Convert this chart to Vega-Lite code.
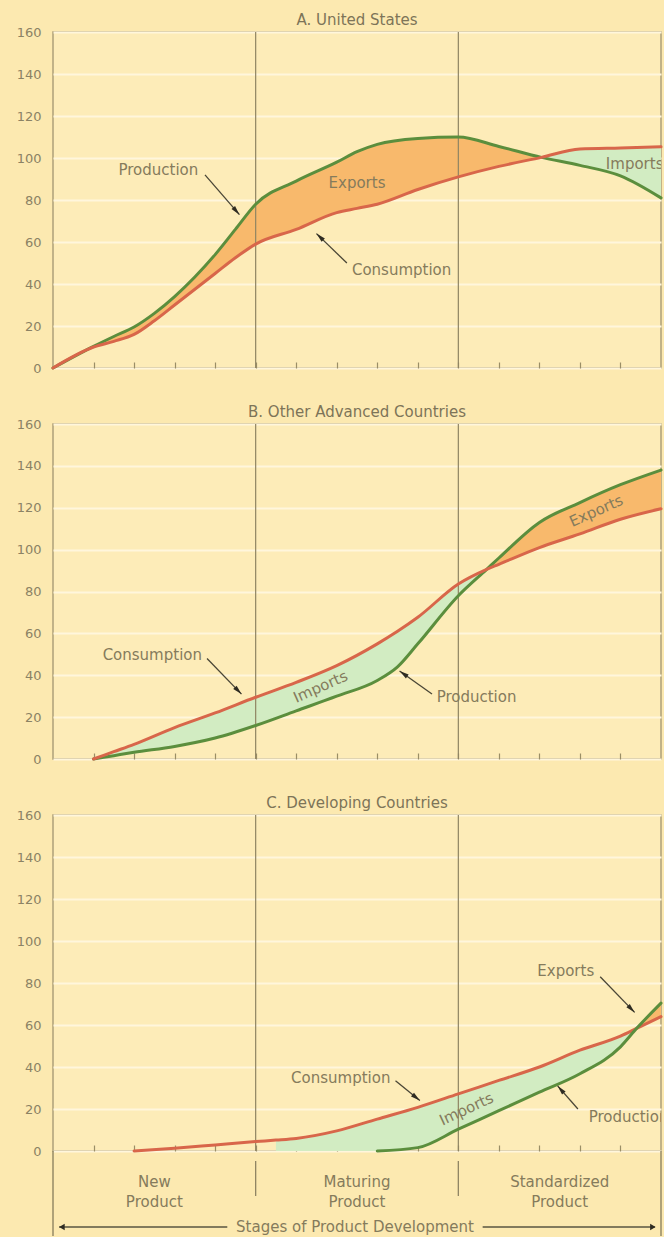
{
  "$schema": "https://vega.github.io/schema/vega-lite/v6.json",
  "padding": {"top": 12, "left": 0, "right": 0, "bottom": 0},
  "background": "#FCE9B0",
  "datasets": {
    "curves": [
      {"panel": "A", "series": "Production", "x": 0, "v": 0},
      {"panel": "A", "series": "Production", "x": 1, "v": 10.3},
      {"panel": "A", "series": "Production", "x": 1.5, "v": 15},
      {"panel": "A", "series": "Production", "x": 2, "v": 19.5},
      {"panel": "A", "series": "Production", "x": 2.5, "v": 26},
      {"panel": "A", "series": "Production", "x": 3, "v": 34},
      {"panel": "A", "series": "Production", "x": 4, "v": 54},
      {"panel": "A", "series": "Production", "x": 4.5, "v": 66},
      {"panel": "A", "series": "Production", "x": 5, "v": 78},
      {"panel": "A", "series": "Production", "x": 6, "v": 89},
      {"panel": "A", "series": "Production", "x": 7, "v": 98},
      {"panel": "A", "series": "Production", "x": 7.5, "v": 103},
      {"panel": "A", "series": "Production", "x": 8, "v": 106.5},
      {"panel": "A", "series": "Production", "x": 9, "v": 109.3},
      {"panel": "A", "series": "Production", "x": 10, "v": 110},
      {"panel": "A", "series": "Production", "x": 11, "v": 105.5},
      {"panel": "A", "series": "Production", "x": 12.05, "v": 100.3},
      {"panel": "A", "series": "Production", "x": 13, "v": 96.5},
      {"panel": "A", "series": "Production", "x": 14, "v": 91.5},
      {"panel": "A", "series": "Production", "x": 15, "v": 81},
      {"panel": "A", "series": "Consumption", "x": 0, "v": 0},
      {"panel": "A", "series": "Consumption", "x": 1, "v": 10},
      {"panel": "A", "series": "Consumption", "x": 1.5, "v": 12.7},
      {"panel": "A", "series": "Consumption", "x": 2, "v": 16},
      {"panel": "A", "series": "Consumption", "x": 2.5, "v": 22.5},
      {"panel": "A", "series": "Consumption", "x": 3, "v": 30},
      {"panel": "A", "series": "Consumption", "x": 4, "v": 45},
      {"panel": "A", "series": "Consumption", "x": 4.5, "v": 52.5},
      {"panel": "A", "series": "Consumption", "x": 5, "v": 59},
      {"panel": "A", "series": "Consumption", "x": 6, "v": 66},
      {"panel": "A", "series": "Consumption", "x": 7, "v": 74},
      {"panel": "A", "series": "Consumption", "x": 7.5, "v": 76},
      {"panel": "A", "series": "Consumption", "x": 8, "v": 78},
      {"panel": "A", "series": "Consumption", "x": 9, "v": 85},
      {"panel": "A", "series": "Consumption", "x": 10, "v": 91},
      {"panel": "A", "series": "Consumption", "x": 11, "v": 96},
      {"panel": "A", "series": "Consumption", "x": 12.05, "v": 100.3},
      {"panel": "A", "series": "Consumption", "x": 13, "v": 104.3},
      {"panel": "A", "series": "Consumption", "x": 14, "v": 104.8},
      {"panel": "A", "series": "Consumption", "x": 15, "v": 105.3},
      {"panel": "B", "series": "Production", "x": 1, "v": 0},
      {"panel": "B", "series": "Production", "x": 1.5, "v": 1.6},
      {"panel": "B", "series": "Production", "x": 2, "v": 3.2},
      {"panel": "B", "series": "Production", "x": 3, "v": 6},
      {"panel": "B", "series": "Production", "x": 4, "v": 10},
      {"panel": "B", "series": "Production", "x": 5, "v": 16},
      {"panel": "B", "series": "Production", "x": 6, "v": 23},
      {"panel": "B", "series": "Production", "x": 7, "v": 30},
      {"panel": "B", "series": "Production", "x": 8, "v": 37.5},
      {"panel": "B", "series": "Production", "x": 8.5, "v": 44},
      {"panel": "B", "series": "Production", "x": 9, "v": 55},
      {"panel": "B", "series": "Production", "x": 10, "v": 78},
      {"panel": "B", "series": "Production", "x": 10.7, "v": 90.6},
      {"panel": "B", "series": "Production", "x": 11, "v": 96},
      {"panel": "B", "series": "Production", "x": 12, "v": 113},
      {"panel": "B", "series": "Production", "x": 13, "v": 122.5},
      {"panel": "B", "series": "Production", "x": 14, "v": 131},
      {"panel": "B", "series": "Production", "x": 15, "v": 138},
      {"panel": "B", "series": "Consumption", "x": 1, "v": 0},
      {"panel": "B", "series": "Consumption", "x": 1.5, "v": 3.5},
      {"panel": "B", "series": "Consumption", "x": 2, "v": 7},
      {"panel": "B", "series": "Consumption", "x": 3, "v": 15},
      {"panel": "B", "series": "Consumption", "x": 4, "v": 22},
      {"panel": "B", "series": "Consumption", "x": 5, "v": 29.5},
      {"panel": "B", "series": "Consumption", "x": 6, "v": 36.6},
      {"panel": "B", "series": "Consumption", "x": 7, "v": 44.6},
      {"panel": "B", "series": "Consumption", "x": 8, "v": 55},
      {"panel": "B", "series": "Consumption", "x": 8.5, "v": 61},
      {"panel": "B", "series": "Consumption", "x": 9, "v": 67.7},
      {"panel": "B", "series": "Consumption", "x": 10, "v": 83.6},
      {"panel": "B", "series": "Consumption", "x": 10.7, "v": 90.6},
      {"panel": "B", "series": "Consumption", "x": 11, "v": 93},
      {"panel": "B", "series": "Consumption", "x": 12, "v": 101},
      {"panel": "B", "series": "Consumption", "x": 13, "v": 107.5},
      {"panel": "B", "series": "Consumption", "x": 14, "v": 114.5},
      {"panel": "B", "series": "Consumption", "x": 15, "v": 119.5},
      {"panel": "C", "series": "Consumption", "x": 2, "v": 0},
      {"panel": "C", "series": "Consumption", "x": 3, "v": 1.3},
      {"panel": "C", "series": "Consumption", "x": 4, "v": 2.9},
      {"panel": "C", "series": "Consumption", "x": 5, "v": 4.5},
      {"panel": "C", "series": "Consumption", "x": 5.5, "v": 5.2},
      {"panel": "C", "series": "Consumption", "x": 6, "v": 6},
      {"panel": "C", "series": "Consumption", "x": 7, "v": 9.6},
      {"panel": "C", "series": "Consumption", "x": 8, "v": 15.2},
      {"panel": "C", "series": "Consumption", "x": 9, "v": 20.8},
      {"panel": "C", "series": "Consumption", "x": 10, "v": 27.2},
      {"panel": "C", "series": "Consumption", "x": 11, "v": 33.6},
      {"panel": "C", "series": "Consumption", "x": 12, "v": 40},
      {"panel": "C", "series": "Consumption", "x": 13, "v": 48},
      {"panel": "C", "series": "Consumption", "x": 14, "v": 54.7},
      {"panel": "C", "series": "Consumption", "x": 14.4, "v": 58.4},
      {"panel": "C", "series": "Consumption", "x": 15, "v": 64},
      {"panel": "C", "series": "Production", "x": 8, "v": 0},
      {"panel": "C", "series": "Production", "x": 9, "v": 1.6},
      {"panel": "C", "series": "Production", "x": 10, "v": 10.4},
      {"panel": "C", "series": "Production", "x": 11, "v": 19.2},
      {"panel": "C", "series": "Production", "x": 12, "v": 28},
      {"panel": "C", "series": "Production", "x": 13, "v": 36.8},
      {"panel": "C", "series": "Production", "x": 14, "v": 49.6},
      {"panel": "C", "series": "Production", "x": 14.4, "v": 58.4},
      {"panel": "C", "series": "Production", "x": 15, "v": 70.4}
    ],
    "bands": [
      {"panel": "A", "flow": "Exports", "x": 0, "lo": 0, "hi": 0},
      {"panel": "A", "flow": "Exports", "x": 1, "lo": 10, "hi": 10.3},
      {"panel": "A", "flow": "Exports", "x": 1.5, "lo": 12.7, "hi": 15},
      {"panel": "A", "flow": "Exports", "x": 2, "lo": 16, "hi": 19.5},
      {"panel": "A", "flow": "Exports", "x": 2.5, "lo": 22.5, "hi": 26},
      {"panel": "A", "flow": "Exports", "x": 3, "lo": 30, "hi": 34},
      {"panel": "A", "flow": "Exports", "x": 4, "lo": 45, "hi": 54},
      {"panel": "A", "flow": "Exports", "x": 4.5, "lo": 52.5, "hi": 66},
      {"panel": "A", "flow": "Exports", "x": 5, "lo": 59, "hi": 78},
      {"panel": "A", "flow": "Exports", "x": 6, "lo": 66, "hi": 89},
      {"panel": "A", "flow": "Exports", "x": 7, "lo": 74, "hi": 98},
      {"panel": "A", "flow": "Exports", "x": 7.5, "lo": 76, "hi": 103},
      {"panel": "A", "flow": "Exports", "x": 8, "lo": 78, "hi": 106.5},
      {"panel": "A", "flow": "Exports", "x": 9, "lo": 85, "hi": 109.3},
      {"panel": "A", "flow": "Exports", "x": 10, "lo": 91, "hi": 110},
      {"panel": "A", "flow": "Exports", "x": 11, "lo": 96, "hi": 105.5},
      {"panel": "A", "flow": "Exports", "x": 12.05, "lo": 100.3, "hi": 100.3},
      {"panel": "A", "flow": "Imports", "x": 12.05, "lo": 100.3, "hi": 100.3},
      {"panel": "A", "flow": "Imports", "x": 13, "lo": 96.5, "hi": 104.3},
      {"panel": "A", "flow": "Imports", "x": 14, "lo": 91.5, "hi": 104.8},
      {"panel": "A", "flow": "Imports", "x": 15, "lo": 81, "hi": 105.3},
      {"panel": "B", "flow": "Imports", "x": 1, "lo": 0, "hi": 0},
      {"panel": "B", "flow": "Imports", "x": 1.5, "lo": 1.6, "hi": 3.5},
      {"panel": "B", "flow": "Imports", "x": 2, "lo": 3.2, "hi": 7},
      {"panel": "B", "flow": "Imports", "x": 3, "lo": 6, "hi": 15},
      {"panel": "B", "flow": "Imports", "x": 4, "lo": 10, "hi": 22},
      {"panel": "B", "flow": "Imports", "x": 5, "lo": 16, "hi": 29.5},
      {"panel": "B", "flow": "Imports", "x": 6, "lo": 23, "hi": 36.6},
      {"panel": "B", "flow": "Imports", "x": 7, "lo": 30, "hi": 44.6},
      {"panel": "B", "flow": "Imports", "x": 8, "lo": 37.5, "hi": 55},
      {"panel": "B", "flow": "Imports", "x": 8.5, "lo": 44, "hi": 61},
      {"panel": "B", "flow": "Imports", "x": 9, "lo": 55, "hi": 67.7},
      {"panel": "B", "flow": "Imports", "x": 10, "lo": 78, "hi": 83.6},
      {"panel": "B", "flow": "Imports", "x": 10.7, "lo": 90.6, "hi": 90.6},
      {"panel": "B", "flow": "Exports", "x": 10.7, "lo": 90.6, "hi": 90.6},
      {"panel": "B", "flow": "Exports", "x": 11, "lo": 93, "hi": 96},
      {"panel": "B", "flow": "Exports", "x": 12, "lo": 101, "hi": 113},
      {"panel": "B", "flow": "Exports", "x": 13, "lo": 107.5, "hi": 122.5},
      {"panel": "B", "flow": "Exports", "x": 14, "lo": 114.5, "hi": 131},
      {"panel": "B", "flow": "Exports", "x": 15, "lo": 119.5, "hi": 138},
      {"panel": "C", "flow": "Imports", "x": 5.5, "lo": 0, "hi": 5.2},
      {"panel": "C", "flow": "Imports", "x": 6, "lo": 0, "hi": 6},
      {"panel": "C", "flow": "Imports", "x": 7, "lo": 0, "hi": 9.6},
      {"panel": "C", "flow": "Imports", "x": 8, "lo": 0, "hi": 15.2},
      {"panel": "C", "flow": "Imports", "x": 9, "lo": 1.6, "hi": 20.8},
      {"panel": "C", "flow": "Imports", "x": 10, "lo": 10.4, "hi": 27.2},
      {"panel": "C", "flow": "Imports", "x": 11, "lo": 19.2, "hi": 33.6},
      {"panel": "C", "flow": "Imports", "x": 12, "lo": 28, "hi": 40},
      {"panel": "C", "flow": "Imports", "x": 13, "lo": 36.8, "hi": 48},
      {"panel": "C", "flow": "Imports", "x": 14, "lo": 49.6, "hi": 54.7},
      {"panel": "C", "flow": "Imports", "x": 14.4, "lo": 58.4, "hi": 58.4},
      {"panel": "C", "flow": "Exports", "x": 14.4, "lo": 58.4, "hi": 58.4},
      {"panel": "C", "flow": "Exports", "x": 15, "lo": 64, "hi": 70.4}
    ],
    "notes": [
      {"panel": "A", "label": "Production", "x": 2.6, "v": 94.5, "tilt": 0},
      {"panel": "A", "label": "Exports", "x": 7.5, "v": 88, "tilt": 0},
      {"panel": "A", "label": "Consumption", "x": 8.6, "v": 46.5, "tilt": 0},
      {"panel": "A", "label": "Imports", "x": 14.35, "v": 97, "tilt": 0},
      {"panel": "B", "label": "Consumption", "x": 2.45, "v": 49.5, "tilt": 0},
      {"panel": "B", "label": "Imports", "x": 6.6, "v": 34.5, "tilt": -24},
      {"panel": "B", "label": "Production", "x": 10.45, "v": 29.5, "tilt": 0},
      {"panel": "B", "label": "Exports", "x": 13.4, "v": 118.5, "tilt": -24},
      {"panel": "C", "label": "Consumption", "x": 7.1, "v": 35, "tilt": 0},
      {"panel": "C", "label": "Imports", "x": 10.2, "v": 20, "tilt": -25},
      {"panel": "C", "label": "Production", "x": 14.2, "v": 16, "tilt": 0},
      {"panel": "C", "label": "Exports", "x": 12.65, "v": 85.5, "tilt": 0}
    ],
    "arrows": [
      {"panel": "A", "x": 3.75, "v": 92, "x2": 4.6, "v2": 73, "heading": 139},
      {"panel": "A", "x": 7.25, "v": 50, "x2": 6.5, "v2": 64, "heading": 314},
      {"panel": "B", "x": 3.8, "v": 48, "x2": 4.65, "v2": 31, "heading": 136},
      {"panel": "B", "x": 9.35, "v": 31, "x2": 8.55, "v2": 42, "heading": 305},
      {"panel": "C", "x": 8.45, "v": 33.5, "x2": 9.05, "v2": 24, "heading": 129},
      {"panel": "C", "x": 12.95, "v": 20, "x2": 12.45, "v2": 31, "heading": 319},
      {"panel": "C", "x": 13.5, "v": 83, "x2": 14.35, "v2": 66, "heading": 136}
    ],
    "boundaries": [{"x": 5}, {"x": 10}],
    "edges": [{"x": 0}, {"x": 15}],
    "stages": [
      {"x": 2.5, "name": "New\nProduct"},
      {"x": 7.5, "name": "Maturing\nProduct"},
      {"x": 12.5, "name": "Standardized\nProduct"}
    ]
  },
  "spacing": 56,
  "bounds": "flush",
  "vconcat": [
    {
      "title": "A. United States",
      "width": 608,
      "height": 336,
      "layer": [
        {
          "data": {"name": "bands"},
          "transform": [{"filter": "datum.panel === 'A'"}],
          "mark": {"type": "area", "interpolate": "monotone"},
          "encoding": {
            "x": {"field": "x", "type": "quantitative", "title": null, "scale": {"domain": [0, 15], "nice": false},
                  "axis": {"values": [1,2,3,4,5,6,7,8,9,10,11,12,13,14], "labels": false, "domain": false, "grid": false, "ticks": true, "tickSize": -6, "tickColor": "#9A8E66", "tickWidth": 1.2, "title": null}},
            "y": {"field": "lo", "type": "quantitative", "title": null, "stack": null, "scale": {"domain": [0, 160], "nice": false},
                  "axis": {"values": [0,20,40,60,80,100,120,140,160], "title": null, "domain": false, "ticks": false, "tickSize": 0, "grid": true, "gridColor": "#FFF6DC", "gridWidth": 2, "gridOpacity": 1, "labelFontSize": 13, "labelFont": "DejaVu Sans", "labelColor": "#8B8264", "labelPadding": 12, "minExtent": 52, "maxExtent": 52}},
            "y2": {"field": "hi"},
            "fill": {"field": "flow", "type": "nominal", "scale": {"domain": ["Exports", "Imports"], "range": ["#F8B96C", "#D2ECC2"]}, "legend": null}
          }
        },
        {
          "data": {"name": "boundaries"},
          "mark": {"type": "rule", "color": "#8F8462", "strokeWidth": 1.2},
          "encoding": {"x": {"field": "x", "type": "quantitative", "title": null}}
        },
        {
          "data": {"name": "curves"},
          "transform": [{"filter": "datum.panel === 'A'"}],
          "mark": {"type": "line", "interpolate": "monotone", "strokeWidth": 3, "strokeCap": "round"},
          "encoding": {
            "x": {"field": "x", "type": "quantitative", "title": null},
            "y": {"field": "v", "type": "quantitative", "title": null},
            "stroke": {"field": "series", "type": "nominal", "scale": {"domain": ["Consumption", "Production"], "range": ["#D8664A", "#5B8E3D"]}, "legend": null}
          }
        },
        {
          "data": {"name": "arrows"},
          "transform": [{"filter": "datum.panel === 'A'"}],
          "mark": {"type": "rule", "color": "#4A4636", "strokeWidth": 1.3},
          "encoding": {
            "x": {"field": "x", "type": "quantitative", "title": null},
            "y": {"field": "v", "type": "quantitative", "title": null},
            "x2": {"field": "x2"},
            "y2": {"field": "v2"}
          }
        },
        {
          "data": {"name": "arrows"},
          "transform": [{"filter": "datum.panel === 'A'"}],
          "mark": {"type": "point", "filled": true, "opacity": 1, "shape": "M0,0L0.45,1.8L-0.45,1.8Z", "size": 110, "color": "#2F2C22"},
          "encoding": {
            "x": {"field": "x2", "type": "quantitative", "title": null},
            "y": {"field": "v2", "type": "quantitative", "title": null},
            "angle": {"field": "heading", "type": "quantitative", "scale": null}
          }
        },
        {
          "data": {"name": "notes"},
          "transform": [{"filter": "datum.panel === 'A'"}],
          "mark": {"type": "text", "clip": true, "baseline": "middle", "align": "center"},
          "encoding": {
            "x": {"field": "x", "type": "quantitative", "title": null},
            "y": {"field": "v", "type": "quantitative", "title": null},
            "text": {"field": "label"},
            "angle": {"field": "tilt", "type": "quantitative", "scale": null}
          }
        }
      ]
    },
    {
      "title": "B. Other Advanced Countries",
      "width": 608,
      "height": 335,
      "layer": [
        {
          "data": {"name": "bands"},
          "transform": [{"filter": "datum.panel === 'B'"}],
          "mark": {"type": "area", "interpolate": "monotone"},
          "encoding": {
            "x": {"field": "x", "type": "quantitative", "title": null, "scale": {"domain": [0, 15], "nice": false},
                  "axis": {"values": [1,2,3,4,5,6,7,8,9,10,11,12,13,14], "labels": false, "domain": false, "grid": false, "ticks": true, "tickSize": -6, "tickColor": "#9A8E66", "tickWidth": 1.2, "title": null}},
            "y": {"field": "lo", "type": "quantitative", "title": null, "stack": null, "scale": {"domain": [0, 160], "nice": false},
                  "axis": {"values": [0,20,40,60,80,100,120,140,160], "title": null, "domain": false, "ticks": false, "tickSize": 0, "grid": true, "gridColor": "#FFF6DC", "gridWidth": 2, "gridOpacity": 1, "labelFontSize": 13, "labelFont": "DejaVu Sans", "labelColor": "#8B8264", "labelPadding": 12, "minExtent": 52, "maxExtent": 52}},
            "y2": {"field": "hi"},
            "fill": {"field": "flow", "type": "nominal", "scale": {"domain": ["Exports", "Imports"], "range": ["#F8B96C", "#D2ECC2"]}, "legend": null}
          }
        },
        {
          "data": {"name": "boundaries"},
          "mark": {"type": "rule", "color": "#8F8462", "strokeWidth": 1.2},
          "encoding": {"x": {"field": "x", "type": "quantitative", "title": null}}
        },
        {
          "data": {"name": "curves"},
          "transform": [{"filter": "datum.panel === 'B'"}],
          "mark": {"type": "line", "interpolate": "monotone", "strokeWidth": 3, "strokeCap": "round"},
          "encoding": {
            "x": {"field": "x", "type": "quantitative", "title": null},
            "y": {"field": "v", "type": "quantitative", "title": null},
            "stroke": {"field": "series", "type": "nominal", "scale": {"domain": ["Consumption", "Production"], "range": ["#D8664A", "#5B8E3D"]}, "legend": null}
          }
        },
        {
          "data": {"name": "arrows"},
          "transform": [{"filter": "datum.panel === 'B'"}],
          "mark": {"type": "rule", "color": "#4A4636", "strokeWidth": 1.3},
          "encoding": {
            "x": {"field": "x", "type": "quantitative", "title": null},
            "y": {"field": "v", "type": "quantitative", "title": null},
            "x2": {"field": "x2"},
            "y2": {"field": "v2"}
          }
        },
        {
          "data": {"name": "arrows"},
          "transform": [{"filter": "datum.panel === 'B'"}],
          "mark": {"type": "point", "filled": true, "opacity": 1, "shape": "M0,0L0.45,1.8L-0.45,1.8Z", "size": 110, "color": "#2F2C22"},
          "encoding": {
            "x": {"field": "x2", "type": "quantitative", "title": null},
            "y": {"field": "v2", "type": "quantitative", "title": null},
            "angle": {"field": "heading", "type": "quantitative", "scale": null}
          }
        },
        {
          "data": {"name": "notes"},
          "transform": [{"filter": "datum.panel === 'B'"}],
          "mark": {"type": "text", "clip": true, "baseline": "middle", "align": "center"},
          "encoding": {
            "x": {"field": "x", "type": "quantitative", "title": null},
            "y": {"field": "v", "type": "quantitative", "title": null},
            "text": {"field": "label"},
            "angle": {"field": "tilt", "type": "quantitative", "scale": null}
          }
        }
      ]
    },
    {
      "spacing": 0,
      "bounds": "flush",
      "vconcat": [
        {
          "title": "C. Developing Countries",
          "width": 608,
          "height": 336,
          "layer": [
            {
              "data": {"name": "bands"},
              "transform": [{"filter": "datum.panel === 'C'"}],
              "mark": {"type": "area", "interpolate": "monotone"},
              "encoding": {
                "x": {"field": "x", "type": "quantitative", "title": null, "scale": {"domain": [0, 15], "nice": false},
                      "axis": {"values": [1,2,3,4,5,6,7,8,9,10,11,12,13,14], "labels": false, "domain": false, "grid": false, "ticks": true, "tickSize": -6, "tickColor": "#9A8E66", "tickWidth": 1.2, "title": null}},
                "y": {"field": "lo", "type": "quantitative", "title": null, "stack": null, "scale": {"domain": [0, 160], "nice": false},
                      "axis": {"values": [0,20,40,60,80,100,120,140,160], "title": null, "domain": false, "ticks": false, "tickSize": 0, "grid": true, "gridColor": "#FFF6DC", "gridWidth": 2, "gridOpacity": 1, "labelFontSize": 13, "labelFont": "DejaVu Sans", "labelColor": "#8B8264", "labelPadding": 12, "minExtent": 52, "maxExtent": 52}},
                "y2": {"field": "hi"},
                "fill": {"field": "flow", "type": "nominal", "scale": {"domain": ["Exports", "Imports"], "range": ["#F8B96C", "#D2ECC2"]}, "legend": null}
              }
            },
            {
              "data": {"name": "boundaries"},
              "mark": {"type": "rule", "color": "#8F8462", "strokeWidth": 1.2},
              "encoding": {"x": {"field": "x", "type": "quantitative", "title": null}}
            },
            {
              "data": {"name": "curves"},
              "transform": [{"filter": "datum.panel === 'C'"}],
              "mark": {"type": "line", "interpolate": "monotone", "strokeWidth": 3, "strokeCap": "round"},
              "encoding": {
                "x": {"field": "x", "type": "quantitative", "title": null},
                "y": {"field": "v", "type": "quantitative", "title": null},
                "stroke": {"field": "series", "type": "nominal", "scale": {"domain": ["Consumption", "Production"], "range": ["#D8664A", "#5B8E3D"]}, "legend": null}
              }
            },
            {
              "data": {"name": "arrows"},
              "transform": [{"filter": "datum.panel === 'C'"}],
              "mark": {"type": "rule", "color": "#4A4636", "strokeWidth": 1.3},
              "encoding": {
                "x": {"field": "x", "type": "quantitative", "title": null},
                "y": {"field": "v", "type": "quantitative", "title": null},
                "x2": {"field": "x2"},
                "y2": {"field": "v2"}
              }
            },
            {
              "data": {"name": "arrows"},
              "transform": [{"filter": "datum.panel === 'C'"}],
              "mark": {"type": "point", "filled": true, "opacity": 1, "shape": "M0,0L0.45,1.8L-0.45,1.8Z", "size": 110, "color": "#2F2C22"},
              "encoding": {
                "x": {"field": "x2", "type": "quantitative", "title": null},
                "y": {"field": "v2", "type": "quantitative", "title": null},
                "angle": {"field": "heading", "type": "quantitative", "scale": null}
              }
            },
            {
              "data": {"name": "notes"},
              "transform": [{"filter": "datum.panel === 'C'"}],
              "mark": {"type": "text", "clip": true, "baseline": "middle", "align": "center"},
              "encoding": {
                "x": {"field": "x", "type": "quantitative", "title": null},
                "y": {"field": "v", "type": "quantitative", "title": null},
                "text": {"field": "label"},
                "angle": {"field": "tilt", "type": "quantitative", "scale": null}
              }
            }
          ]
        },
        {
          "width": 608,
          "height": 85,
          "view": {"stroke": null, "fill": null},
          "layer": [
            {
              "data": {"name": "edges"},
              "mark": {"type": "rule", "color": "#8F8462", "strokeWidth": 1.4},
              "encoding": {
                "x": {"field": "x", "type": "quantitative", "scale": {"domain": [0, 15], "nice": false}, "axis": null},
                "y": {"datum": 0, "type": "quantitative", "scale": {"domain": [0, 85], "reverse": true, "nice": false}, "axis": null},
                "y2": {"datum": 85}
              }
            },
            {
              "data": {"name": "boundaries"},
              "mark": {"type": "rule", "color": "#8F8462", "strokeWidth": 1.3},
              "encoding": {
                "x": {"field": "x", "type": "quantitative", "axis": null},
                "y": {"datum": 10, "type": "quantitative", "axis": null},
                "y2": {"datum": 45}
              }
            },
            {
              "data": {"name": "stages"},
              "mark": {"type": "text", "lineBreak": "\n", "lineHeight": 20, "baseline": "middle", "align": "center"},
              "encoding": {
                "x": {"field": "x", "type": "quantitative", "axis": null},
                "y": {"datum": 31, "type": "quantitative", "axis": null},
                "text": {"field": "name"}
              }
            },
            {
              "data": {"values": [{"caption": "Stages of Product Development"}]},
              "mark": {"type": "text", "baseline": "middle", "align": "center"},
              "encoding": {
                "x": {"datum": 7.45, "type": "quantitative", "axis": null},
                "y": {"datum": 76, "type": "quantitative", "axis": null},
                "text": {"field": "caption"}
              }
            },
            {
              "data": {"values": [{}]},
              "mark": {"type": "rule", "color": "#5A5440", "strokeWidth": 1.3},
              "encoding": {
                "x": {"datum": 0.15, "type": "quantitative", "axis": null},
                "x2": {"datum": 4.3},
                "y": {"datum": 76, "type": "quantitative", "axis": null}
              }
            },
            {
              "data": {"values": [{}]},
              "mark": {"type": "rule", "color": "#5A5440", "strokeWidth": 1.3},
              "encoding": {
                "x": {"datum": 10.6, "type": "quantitative", "axis": null},
                "x2": {"datum": 14.85},
                "y": {"datum": 76, "type": "quantitative", "axis": null}
              }
            },
            {
              "data": {"values": [{}]},
              "mark": {"type": "point", "filled": true, "opacity": 1, "shape": "triangle-left", "size": 40, "color": "#2F2C22"},
              "encoding": {
                "x": {"datum": 0.22, "type": "quantitative", "axis": null},
                "y": {"datum": 76, "type": "quantitative", "axis": null}
              }
            },
            {
              "data": {"values": [{}]},
              "mark": {"type": "point", "filled": true, "opacity": 1, "shape": "triangle-right", "size": 40, "color": "#2F2C22"},
              "encoding": {
                "x": {"datum": 14.8, "type": "quantitative", "axis": null},
                "y": {"datum": 76, "type": "quantitative", "axis": null}
              }
            }
          ]
        }
      ]
    }
  ],
  "config": {
    "view": {"fill": "#FDECB8", "stroke": "#ADA07A", "strokeWidth": 1.5},
    "title": {"font": "DejaVu Sans", "fontSize": 15, "fontWeight": "normal", "color": "#7D7458", "offset": -2},
    "axis": {"labelFont": "DejaVu Sans"},
    "text": {"font": "DejaVu Sans", "fontSize": 15, "color": "#857B5C"}
  }
}
